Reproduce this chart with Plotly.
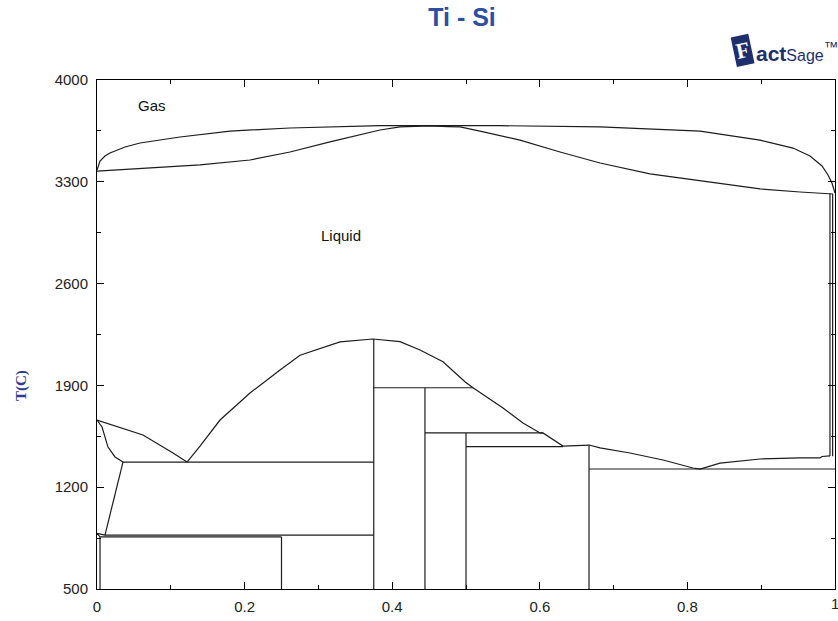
import plotly.graph_objects as go

# ---- Ti-Si phase diagram data (x = mole fraction Si, T in deg C) ----

# gas / liquid boundaries
DEW_X = [0, 0.0041, 0.0108, 0.0176, 0.0379, 0.0583, 0.1125, 0.1802, 0.2615, 0.3835,
         0.5461, 0.6816, 0.8171, 0.8984, 0.9431, 0.9661, 0.9824, 0.9905, 0.9959, 1.0]
DEW_T = [3381, 3443, 3477, 3498, 3539, 3567, 3608, 3649, 3670, 3686,
         3686, 3677, 3649, 3587, 3532, 3477, 3409, 3347, 3292, 3223]

BUBBLE_X = [0, 0.0854, 0.1396, 0.2073, 0.2615, 0.3157, 0.3835, 0.4106, 0.4268, 0.4512, 0.4756,
            0.4919, 0.5190, 0.5420, 0.5732, 0.6274, 0.6816, 0.7493, 0.8171, 0.8984, 0.9526, 0.9973]
BUBBLE_T = [3374, 3402, 3416, 3450, 3505, 3574, 3656, 3677, 3680, 3684, 3680,
            3677, 3649, 3622, 3587, 3505, 3429, 3354, 3306, 3251, 3230, 3216]

# liquidus segments
LIQ_TI_X = [0, 0.0623, 0.1030, 0.1220]
LIQ_TI_T = [1662, 1559, 1435, 1373]

LIQ_TI5SI3_X = [0.1220, 0.1396, 0.1667, 0.2073, 0.2480, 0.2751, 0.3293, 0.3740,
                0.4106, 0.4377, 0.4688, 0.4851, 0.4986, 0.5095]
LIQ_TI5SI3_T = [1373, 1483, 1662, 1848, 2006, 2107, 2199, 2219,
                2201, 2143, 2063, 1985, 1925, 1884]

LIQ_MID_X = [0.5095, 0.5298, 0.5501, 0.5772, 0.6003, 0.6043, 0.6314, 0.6667,
             0.6816, 0.7222, 0.7669, 0.8076, 0.8171, 0.8442, 0.8984, 0.9526, 0.9797, 0.9824, 0.9932]
LIQ_MID_T = [1884, 1813, 1745, 1641, 1573, 1573, 1483, 1490,
             1470, 1435, 1387, 1332, 1325, 1366, 1394, 1401, 1401, 1411, 1415]

# (beta-Ti) solidus and solvus
SOL_TI_X = [0, 0.0068, 0.0149, 0.0244, 0.0352]
SOL_TI_T = [1662, 1614, 1476, 1408, 1373]
SOLVUS_BTI_X = [0.0352, 0.0108]
SOLVUS_BTI_T = [1373, 871]

# (alpha-Ti) boundaries
ALPHA_X = [0.0041, 0.0041]
ALPHA_T = [858, 500]
ALPHA_BETA_X = [0, 0.0041, 0, 0.0108]
ALPHA_BETA_T = [882, 858, 882, 871]

# (Si) side boundaries
SI_SIDE_X = [0.9932, 0.9968]
SI_SIDE_TOP = [3220, 3216]
SI_SIDE_BOTTOM = [1415, 1413]

# line compounds: Ti3Si, Ti5Si3, Ti5Si4, TiSi, TiSi2
COMPOUND_X = [0.25, 0.375, 0.4444, 0.5, 0.6667]
COMPOUND_TOP = [858, 2219, 1884, 1573, 1490]

# invariant reactions
INVARIANT_T = [1373, 1884, 1573, 1479, 1325, 871, 858]
INVARIANT_X0 = [0.0352, 0.375, 0.4444, 0.5, 0.6667, 0.0108, 0.0041]
INVARIANT_X1 = [0.375, 0.5095, 0.6043, 0.6314, 1.0, 0.375, 0.25]

# region labels
REGION_TEXT = ["Gas", "Liquid"]
REGION_X = [0.074, 0.331]
REGION_T = [3828, 2934]

X_TICKS = [0, 0.2, 0.4, 0.6, 0.8, 1]
X_TICK_TEXT = ["0", "0.2", "0.4", "0.6", "0.8", "1"]
T_TICKS = [500, 1200, 1900, 2600, 3300, 4000]

LINE = "#1c1c1c"
NAVY = "#1f2f6e"
TICK_FONT = dict(family="Arial", size=15, color="#222222")
fig = go.Figure()


def add_line(xs, ts):
    fig.add_trace(go.Scatter(x=xs, y=ts, mode="lines",
                             line=dict(color=LINE, width=1.2),
                             hoverinfo="skip", showlegend=False))


add_line(DEW_X, DEW_T)
add_line(BUBBLE_X, BUBBLE_T)
add_line(LIQ_TI_X, LIQ_TI_T)
add_line(LIQ_TI5SI3_X, LIQ_TI5SI3_T)
add_line(LIQ_MID_X, LIQ_MID_T)
add_line(SOL_TI_X, SOL_TI_T)
add_line(SOLVUS_BTI_X, SOLVUS_BTI_T)
add_line(ALPHA_X, ALPHA_T)
add_line(ALPHA_BETA_X[:2], ALPHA_BETA_T[:2])
add_line(ALPHA_BETA_X[2:], ALPHA_BETA_T[2:])

for xs, top, bot in zip(SI_SIDE_X, SI_SIDE_TOP, SI_SIDE_BOTTOM):
    add_line([xs, xs], [top, bot])

for xc, top in zip(COMPOUND_X, COMPOUND_TOP):
    add_line([xc, xc], [top, 500])

for t, x0, x1 in zip(INVARIANT_T, INVARIANT_X0, INVARIANT_X1):
    add_line([x0, x1], [t, t])

for txt, x, t in zip(REGION_TEXT, REGION_X, REGION_T):
    fig.add_annotation(x=x, y=t, text=txt, showarrow=False,
                       font=dict(family="Arial", size=15, color="#111111"))

# last x tick label sits at the figure edge, so it is placed as an annotation
fig.add_annotation(x=X_TICKS[-1], y=0, xref="x", yref="paper", text=X_TICK_TEXT[-1],
                   showarrow=False, xanchor="center", yanchor="top", yshift=-4,
                   font=TICK_FONT)

# axis title
fig.add_annotation(xref="paper", yref="paper", x=-0.102, y=0.40, text="<b>T(C)</b>",
                   xanchor="center", yanchor="middle",
                   textangle=-90, showarrow=False,
                   font=dict(family="Liberation Serif", size=15, color="#2e3b8f"))

# FactSage mark: boxed "F" followed by the rest of the name
fig.add_annotation(xref="paper", yref="paper", x=(742 - 97) / 738, y=(589 - 50) / 509,
                   text="<b>F</b>", showarrow=False, xanchor="center", yanchor="middle",
                   textangle=-12, bgcolor=NAVY, borderpad=2,
                   font=dict(family="Arial Black", size=22, color="white"))
fig.add_annotation(xref="paper", yref="paper", x=(754 - 97) / 738, y=(589 - 52) / 509,
                   text="<b>act</b><span style='font-size:16px'>Sage</span><sup>™</sup>",
                   showarrow=False, xanchor="left", yanchor="middle",
                   font=dict(family="Arial", size=21, color=NAVY))

fig.update_layout(
    width=838, height=621,
    margin=dict(l=97, r=3, t=80, b=32),
    paper_bgcolor="white", plot_bgcolor="white",
    title=dict(text="<b>Ti - Si</b>", x=462 / 838, xanchor="center",
               y=1 - 17 / 621, yanchor="middle",
               font=dict(family="Arial", size=25, color="#2c4fa3")),
    xaxis=dict(range=[0, 1], tickvals=X_TICKS, ticktext=X_TICK_TEXT,
               showgrid=False, zeroline=False, showline=True, linecolor="black",
               linewidth=1, mirror="ticks", ticks="inside", ticklen=7,
               tickcolor="black", ticklabelstandoff=4, automargin=False,
               minor=dict(dtick=0.1, tick0=0, ticks="inside", ticklen=4, tickcolor="black"),
               tickfont=TICK_FONT),
    yaxis=dict(range=[500, 4000], tickvals=T_TICKS,
               showgrid=False, zeroline=False, showline=True, linecolor="black",
               linewidth=1, mirror="ticks", ticks="inside", ticklen=7,
               tickcolor="black", ticklabelstandoff=5, automargin=False,
               minor=dict(dtick=350, tick0=500, ticks="inside", ticklen=4, tickcolor="black"),
               tickfont=TICK_FONT),
)

fig.write_html("out.html")
